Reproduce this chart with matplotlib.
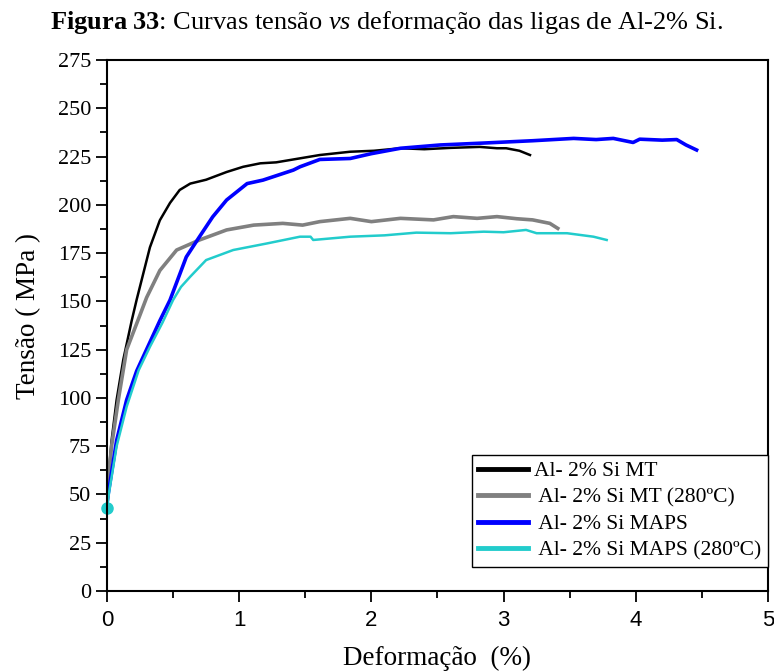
import matplotlib
matplotlib.use("Agg")
import matplotlib.pyplot as plt
from matplotlib.ticker import MultipleLocator

plt.rcParams["font.family"] = ["Liberation Serif", "DejaVu Serif"]
plt.rcParams["mathtext.fontset"] = "custom"
plt.rcParams["mathtext.rm"] = "Liberation Serif"
plt.rcParams["mathtext.it"] = "Liberation Serif:italic"
plt.rcParams["mathtext.bf"] = "Liberation Serif:bold"

# Al-2% Si MT
mt_x = [0, 0.01, 0.035, 0.073, 0.124, 0.187, 0.225, 0.275, 0.325, 0.40, 0.477, 0.55,
        0.63, 0.75, 0.905, 1.03, 1.16, 1.28, 1.41, 1.61, 1.84, 2.02, 2.22, 2.4, 2.6,
        2.82, 2.95, 3.02, 3.12, 3.20]
mt_y = [45, 58, 78, 99, 120, 140, 151, 164.5, 178, 192, 201, 207.7,
        211, 213, 217, 219.7, 221.5, 222, 223.5, 225.8, 227.5, 228, 229.3, 228.8, 229.5,
        230, 229.3, 229.3, 228, 225.8]

# Al-2% Si MT (280ºC)
mt280_x = [0, 0.01, 0.035, 0.086, 0.149, 0.25, 0.30, 0.40, 0.527, 0.70, 0.905, 1.11,
           1.33, 1.48, 1.61, 1.84, 2.0, 2.22, 2.47, 2.62, 2.8, 2.95, 3.1, 3.22, 3.35, 3.41]
mt280_y = [45, 58, 75, 99, 125, 143, 152, 166, 176.6, 181.8, 187, 189.5,
           190.4, 189.5, 191.3, 193, 191.3, 193, 192.2, 193.9, 193, 193.9, 192.8, 192.2, 190.4, 187.8]

# Al-2% Si MAPS
maps_x = [0, 0.01, 0.073, 0.149, 0.225, 0.40, 0.477, 0.60, 0.70, 0.80, 0.905, 1.06,
          1.18, 1.41, 1.46, 1.61, 1.84, 2.0, 2.22, 2.52, 2.85, 3.22, 3.53, 3.7, 3.83,
          3.98, 4.03, 4.2, 4.31, 4.38, 4.46]
maps_y = [45, 50.6, 78, 99, 114, 140, 150.7, 173, 183.5, 193.8, 202.5, 211,
          212.8, 218, 219.7, 223.5, 224, 226.5, 229.3, 231, 232, 233.2, 234.4, 233.8, 234.4,
          232.3, 234, 233.5, 233.8, 231, 228.4]

# Al-2% Si MAPS (280ºC)
maps280_x = [0, 0.015, 0.073, 0.149, 0.24, 0.325, 0.42, 0.50, 0.56, 0.63, 0.75, 0.955,
             1.21, 1.46, 1.54, 1.56, 1.84, 2.1, 2.34, 2.6, 2.85, 3.0, 3.17, 3.25, 3.48,
             3.68, 3.78]
maps280_y = [43, 50.6, 75, 95.5, 114.4, 126.5, 139, 150.7, 157.5, 162.8, 171.4, 176.6,
             180, 183.5, 183.5, 181.8, 183.5, 184.2, 185.6, 185.3, 186.1, 185.8, 187, 185.3, 185.3,
             183.5, 181.8]

labels = ["Al- 2% Si MT", " Al- 2% Si MT (280ºC)", " Al- 2% Si MAPS", " Al- 2% Si MAPS (280ºC)"]
colors = ["black", "#808080", "#0000FF", "#22CCCC"]

fig = plt.figure(figsize=(7.74, 6.72), dpi=100)
ax = fig.add_axes([0.1382, 0.1205, 0.854, 0.7902])

ax.plot(mt_x, mt_y, color=colors[0], lw=1.8, label=labels[0])
ax.plot(mt280_x, mt280_y, color=colors[1], lw=2.6, label=labels[1])
ax.plot(maps_x, maps_y, color=colors[2], lw=2.6, label=labels[2])
ax.plot(maps280_x, maps280_y, color=colors[3], lw=1.8, label=labels[3])
ax.plot(maps280_x[0], maps280_y[0], "o", color=colors[3], ms=8, clip_on=False)

ax.set_xlim(0, 5)
ax.set_ylim(0, 275)
ax.xaxis.set_major_locator(MultipleLocator(1))
ax.xaxis.set_minor_locator(MultipleLocator(0.5))
ax.yaxis.set_major_locator(MultipleLocator(25))
ax.yaxis.set_minor_locator(MultipleLocator(12.5))
ax.tick_params(which="major", length=8, width=1.3, labelsize=16)
ax.tick_params(which="minor", length=5, width=1.3)
ax.tick_params(axis="x", pad=6)
for lbl in ax.get_xticklabels():
    lbl.set_family(["Liberation Sans Narrow", "Liberation Sans"])
    lbl.set_fontsize(16)
for s in ax.spines.values():
    s.set_linewidth(1.5)

ax.set_xlabel("Deformação  (%)", fontsize=19.5, va="center")
ax.xaxis.set_label_coords(0.499, -0.126)
ax.set_ylabel("Tensão ( MPa )", fontsize=19.5, va="center")
ax.yaxis.set_label_coords(-0.118, 0.517)

leg = ax.legend(loc="lower right", bbox_to_anchor=(1.0, 0.045), fontsize=15.5,
                frameon=True, fancybox=False, edgecolor="black", framealpha=1,
                handlelength=2.3, handletextpad=0.3, borderpad=0.3,
                labelspacing=0.3, borderaxespad=0)
leg.get_frame().set_linewidth(1.0)
for h in leg.get_lines():
    h.set_linewidth(3.5)

fig.text(0.5, 0.967, r"$\mathbf{Figura\ 33}$: Curvas tensão $\mathit{vs}$ deformação das ligas de Al-2% Si.",
         ha="center", va="center", fontsize=19)

plt.savefig("out.png", dpi=100)
plt.close()
